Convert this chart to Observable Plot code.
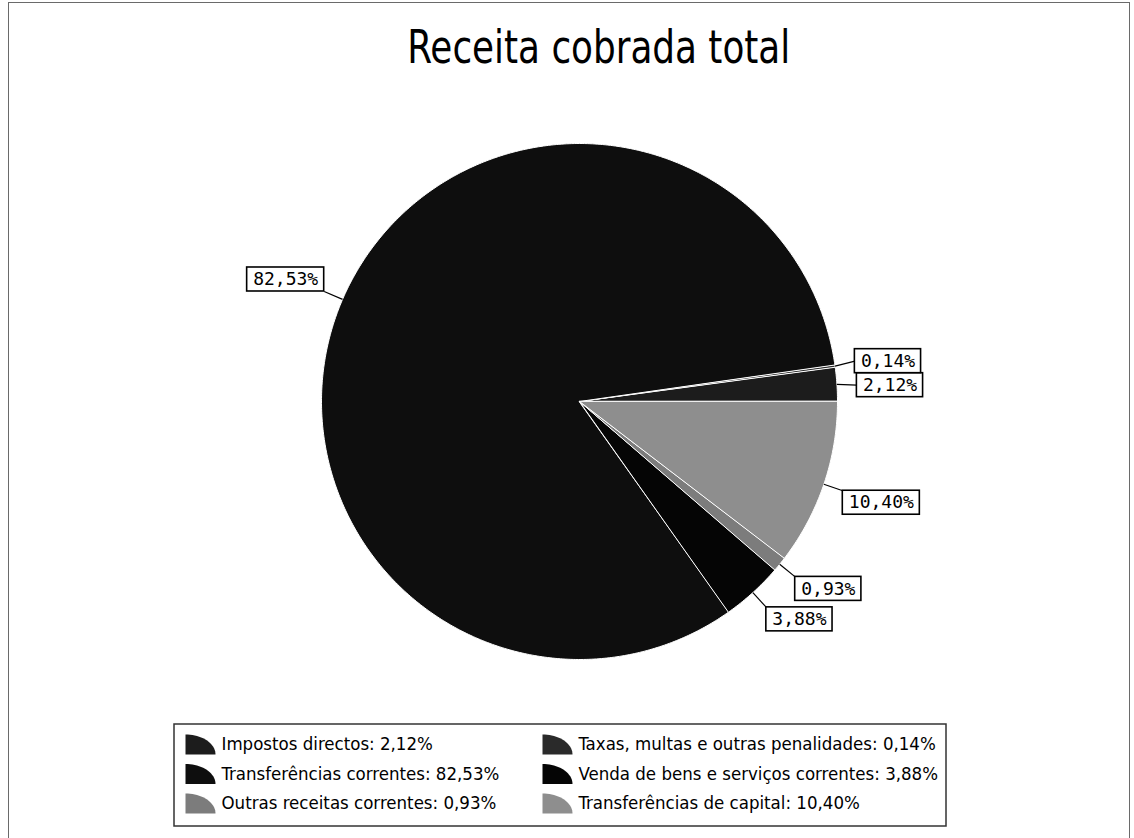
<!DOCTYPE html>
<html><head><meta charset="utf-8">
<script src="https://cdn.jsdelivr.net/npm/d3@7"></script>
<script src="https://cdn.jsdelivr.net/npm/@observablehq/plot@0.6"></script>
<style>
html,body{margin:0;padding:0;background:#fff;}
#wrap{position:relative;width:1134px;height:838px;overflow:hidden;background:#fff;}
#frame{position:absolute;left:8px;top:2px;width:1122px;height:900px;border:1px solid #6a6a6a;box-sizing:border-box;}
#chart{position:absolute;left:0;top:0;}
#title{position:absolute;left:50px;top:24px;width:1084px;text-align:center;font-family:"DejaVu Sans Condensed","DejaVu Sans",sans-serif;font-size:46px;line-height:46px;color:#000;transform:scaleX(0.865);transform-origin:592px 0;}
</style></head>
<body>
<div id="wrap"><div id="frame"></div><div id="chart"></div><div id="title">Receita cobrada total</div></div>
<script>
// ---- data ----
const categories = [
  "Impostos directos",
  "Taxas, multas e outras penalidades",
  "Transferências correntes",
  "Venda de bens e serviços correntes",
  "Outras receitas correntes",
  "Transferências de capital"
];
const shares = [2.12, 0.14, 82.53, 3.88, 0.93, 10.40];
const sliceColors = ["#1c1c1c", "#2a2a2a", "#0e0e0e", "#050505", "#7c7c7c", "#8e8e8e"];

// ---- layout ----
const W = 1134, H = 838;
const cx = 579, cy = 401, R = 258, labelGap = 20;
const fmtPct = v => d3.format(".2f")(v).replace(".", ",") + "%";

const total = d3.sum(shares);
let acc = 0;
const slices = categories.map((cat, i) => {
  const a0 = acc / total * 2 * Math.PI; acc += shares[i];
  const a1 = acc / total * 2 * Math.PI;
  return {cat, v: shares[i], a0, a1};
});

// polygon points for each slice (angles counter-clockwise from east)
const slicePts = [];
for (const s of slices) {
  slicePts.push({cat: s.cat, x: cx, y: cy});
  const n = Math.max(2, Math.ceil((s.a1 - s.a0) / 0.01));
  for (let k = 0; k <= n; k++) {
    const a = s.a0 + (s.a1 - s.a0) * k / n;
    slicePts.push({cat: s.cat, x: cx + R * Math.cos(a), y: cy - R * Math.sin(a)});
  }
}

// labels
const charW = 10.84, pad = 6, boxH = 24;
const labels = slices.map(s => {
  const m = (s.a0 + s.a1) / 2, c = Math.cos(m), sn = Math.sin(m);
  const text = fmtPct(s.v);
  const w = text.length * charW + 2 * pad;
  const lx = cx + (R + labelGap) * c, ly = cy - (R + labelGap) * sn;
  const left = c >= 0 ? lx : lx - w;
  const mid = Math.abs(sn) < 0.2;
  const top = mid ? ly - boxH / 2 : (sn > 0 ? ly - boxH : ly);
  return {text, ex: cx + R * c, ey: cy - R * sn, lx, ly, left, right: left + w, top, bottom: top + boxH, mid, side: c >= 0 ? 1 : -1};
});
// simple collision resolution per side
for (const side of [1, -1]) {
  const group = labels.filter(d => d.side === side).sort((a, b) => a.top - b.top);
  for (let k = 1; k < group.length; k++) {
    const a = group[k - 1], b = group[k];
    const overlap = a.bottom - b.top;
    if (overlap > 0) {
      a.top -= overlap / 2; a.bottom -= overlap / 2;
      b.top += overlap / 2; b.bottom += overlap / 2;
    }
  }
}
for (const d of labels) {
  d.mx = (d.left + d.right) / 2; d.my = (d.top + d.bottom) / 2;
  if (d.mid) { d.ax = d.side > 0 ? d.left : d.right; d.ay = d.my; }
  else { d.ax = d.lx; d.ay = d.ly; }
}

// legend
const lg = {x1: 174, x2: 946, y1: 724, y2: 826, col: [185, 542], textOff: 36, row0: 744, rowStep: 29.5, iw: 30, ih: 20};
const legendItems = slices.map((s, i) => {
  const col = i % 2, row = Math.floor(i / 2);
  const x0 = lg.col[col], yc = lg.row0 + row * lg.rowStep;
  return {cat: s.cat, label: `${s.cat}: ${fmtPct(s.v)}`, x0, yc, tx: x0 + lg.textOff};
});
const iconPts = [];
for (const it of legendItems) {
  const bx = it.x0, by = it.yc + lg.ih / 2;
  iconPts.push({cat: it.cat, x: bx, y: by});
  for (let k = 0; k <= 20; k++) {
    const a = Math.PI / 2 * (1 - k / 20);
    iconPts.push({cat: it.cat, x: bx + lg.iw * Math.cos(a), y: by - lg.ih * Math.sin(a)});
  }
}

const chart = Plot.plot({
  width: W, height: H,
  marginTop: 0, marginRight: 0, marginBottom: 0, marginLeft: 0,
  x: {domain: [0, W], range: [0, W], axis: null},
  y: {domain: [0, H], range: [0, H], axis: null},
  color: {domain: categories, range: sliceColors},
  style: {background: "transparent"},
  marks: [
    Plot.line(slicePts, {x: "x", y: "y", z: "cat", fill: "cat", stroke: "white", strokeWidth: 1, curve: "linear-closed"}),
    Plot.link(labels, {x1: "ex", y1: "ey", x2: "ax", y2: "ay", stroke: "#000", strokeWidth: 1.2}),
    Plot.rect(labels, {x1: "left", x2: "right", y1: "top", y2: "bottom", fill: "white", stroke: "#000", strokeWidth: 1.6}),
    Plot.text(labels, {x: "mx", y: "my", text: "text", fontFamily: "DejaVu Sans Mono", fontSize: 18, fill: "#000"}),
    Plot.rect([lg], {x1: "x1", x2: "x2", y1: "y1", y2: "y2", fill: "white", stroke: "#333", strokeWidth: 1.5}),
    Plot.line(iconPts, {x: "x", y: "y", z: "cat", fill: "cat", stroke: "none", curve: "linear-closed"}),
    Plot.text(legendItems, {x: "tx", y: "yc", text: "label", textAnchor: "start", fontFamily: "DejaVu Sans Condensed, DejaVu Sans", fontSize: 18.5, fill: "#000"})
  ]
});
document.getElementById("chart").appendChild(chart);
</script>
</body></html>
